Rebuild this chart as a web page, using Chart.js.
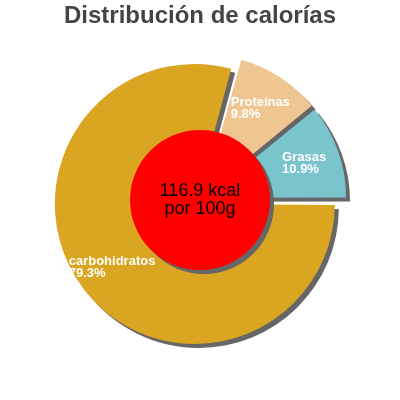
<!DOCTYPE html>
<html>
<head>
<meta charset="utf-8">
<script src="https://cdn.jsdelivr.net/npm/chart.js@4.4.1/dist/chart.umd.min.js"></script>
<style>
  html, body { margin: 0; padding: 0; background: #fff; }
  #wrap { width: 400px; height: 400px; }
</style>
</head>
<body>
<div id="wrap"><canvas id="chart" width="400" height="400"></canvas></div>
<script>
const categories = ['carbohidratos', 'Proteínas', 'Grasas'];
const percentages = [79.3, 9.8, 10.9];
const sliceColors = ['#daa520', '#efc592', '#7ac4cd'];
const centerLines = ['116.9 kcal', 'por 100g'];

const FONT = '"Liberation Sans", Arial, sans-serif';
const SHADOW = '#666666';
const EXPLODE = 26; // chart.js moves a slice by offset / 4

// shadows under the slices, then the red disc, slice labels and centre text
const piecePlugin = {
  id: 'piecePlugin',
  beforeDatasetsDraw(chart) {
    // chart.js also grows exploded slices; undo that so every slice keeps the same radius
    chart.getDatasetMeta(0).data.forEach(arc => {
      const fix = 1 - Math.sin(Math.min(Math.PI, arc.circumference || 0));
      arc.outerRadius -= (arc.options.offset / 4) * fix;
    });
    const ctx = chart.ctx;
    ctx.save();
    ctx.shadowColor = SHADOW;
    ctx.shadowOffsetX = 4;
    ctx.shadowOffsetY = 4;
    ctx.shadowBlur = 0;
  },
  afterDatasetsDraw(chart) {
    const ctx = chart.ctx;
    ctx.restore();
    const meta = chart.getDatasetMeta(0);
    const cx = meta.data[0].x;
    const cy = meta.data[0].y;
    const r = meta.controller.outerRadius;

    // red disc
    ctx.save();
    ctx.shadowColor = SHADOW;
    ctx.shadowOffsetX = 4;
    ctx.shadowOffsetY = 4;
    ctx.beginPath();
    ctx.arc(cx, cy, r / 2, 0, Math.PI * 2);
    ctx.fillStyle = '#ff0000';
    ctx.fill();
    ctx.restore();

    // slice labels
    ctx.save();
    ctx.fillStyle = '#ffffff';
    ctx.font = 'bold 13px ' + FONT;
    ctx.textAlign = 'left';
    ctx.textBaseline = 'alphabetic';
    meta.data.forEach((arc, i) => {
      const mid = (arc.startAngle + arc.endAngle) / 2;
      const shift = arc.options.offset / 4 + r * 0.743;
      const px = cx + Math.cos(mid) * shift;
      const py = cy + Math.sin(mid) * shift;
      const lines = [categories[i], percentages[i].toFixed(1) + '%'];
      const w = Math.max(...lines.map(t => ctx.measureText(t).width));
      ctx.fillText(lines[0], px - w / 2, py - 1.5);
      ctx.fillText(lines[1], px - w / 2, py + 10.2);
    });
    ctx.restore();

    // centre text
    ctx.save();
    ctx.fillStyle = '#000000';
    ctx.font = '18px ' + FONT;
    ctx.textAlign = 'center';
    ctx.textBaseline = 'alphabetic';
    ctx.fillText(centerLines[0], cx, cy - 4);
    ctx.fillText(centerLines[1], cx, cy + 13.5);
    ctx.restore();
  }
};

new Chart(document.getElementById('chart').getContext('2d'), {
  type: 'pie',
  data: {
    labels: categories,
    datasets: [{
      data: percentages,
      backgroundColor: sliceColors,
      borderWidth: 0,
      offset: EXPLODE,
      hoverOffset: EXPLODE
    }]
  },
  options: {
    responsive: false,
    animation: false,
    devicePixelRatio: 1,
    rotation: 90,
    layout: { padding: { top: 0, bottom: 47, left: 0, right: 0 } },
    events: [],
    plugins: {
      legend: { display: false },
      tooltip: { enabled: false },
      title: {
        display: true,
        text: 'Distribución de calorías',
        color: '#444444',
        font: { family: FONT, size: 24, weight: 'bold', lineHeight: 1.2 },
        padding: { top: 2, bottom: 16.2 }
      }
    }
  },
  plugins: [piecePlugin]
});
</script>
</body>
</html>
